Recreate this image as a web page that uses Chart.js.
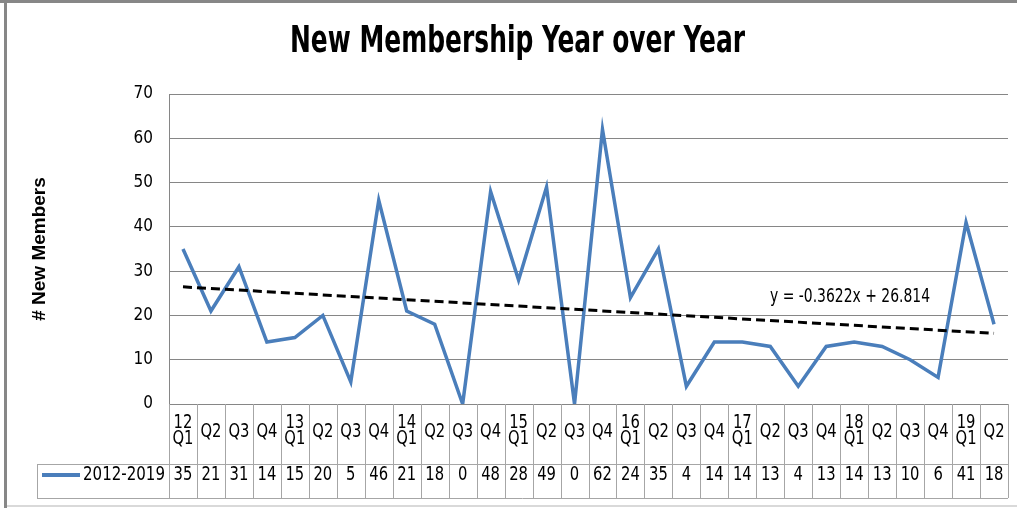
<!DOCTYPE html>
<html>
<head>
<meta charset="utf-8">
<script src="https://cdn.jsdelivr.net/npm/chart.js@4/dist/chart.umd.min.js"></script>
<style>
html,body{margin:0;padding:0;background:#fff;}
#wrap{width:1017px;height:508px;position:relative;}
</style>
</head>
<body>
<div id="wrap"><canvas id="c" width="1017" height="508"></canvas></div>
<script>
const categories = [
  ['12','Q1'],['Q2'],['Q3'],['Q4'],
  ['13','Q1'],['Q2'],['Q3'],['Q4'],
  ['14','Q1'],['Q2'],['Q3'],['Q4'],
  ['15','Q1'],['Q2'],['Q3'],['Q4'],
  ['16','Q1'],['Q2'],['Q3'],['Q4'],
  ['17','Q1'],['Q2'],['Q3'],['Q4'],
  ['18','Q1'],['Q2'],['Q3'],['Q4'],
  ['19','Q1'],['Q2']
];
const seriesName = '2012-2019';
const members = [35,21,31,14,15,20,5,46,21,18,0,48,28,49,0,62,24,35,4,14,14,13,4,13,14,13,10,6,41,18];
// linear trend line as shown: endpoints (y = -0.3622x + 26.814)
const trendLabel = 'y = -0.3622x + 26.814';
const trendStart = 26.45;
const trendEnd = 15.95;
const trend = members.map((v, i) => i === 0 ? trendStart : (i === members.length - 1 ? trendEnd : null));
const yTicks = [0,10,20,30,40,50,60,70];
const titleText = 'New Membership Year over Year';
const yTitle = '# New Members';

const BLUE = '#4A7EBB';
const GRID = '#868686';
const TABLE = '#A6A6A6';
const COND = "'DejaVu Sans Condensed', 'Liberation Sans Narrow', sans-serif";

// draw text horizontally squeezed (the reference font is narrow and tall)
function drawSqueezed(ctx, text, x, y, sx, align) {
  ctx.save();
  const w = ctx.measureText(text).width * sx;
  let left = x;
  if (align === 'center') left = x - w / 2;
  else if (align === 'right') left = x - w;
  ctx.translate(left, y);
  ctx.scale(sx, 1);
  ctx.textAlign = 'left';
  ctx.fillText(text, 0, 0);
  ctx.restore();
}
function drawFitWidth(ctx, text, x, y, width, align) {
  const sx = width / ctx.measureText(text).width;
  drawSqueezed(ctx, text, x, y, sx, align);
}

const framePlugin = {
  id: 'frame',
  beforeDraw(chart) {
    const ctx = chart.ctx;
    ctx.save();
    ctx.fillStyle = '#fff';
    ctx.fillRect(0, 0, chart.width, chart.height);
    ctx.fillStyle = '#878787';
    ctx.fillRect(0, 0, chart.width, 3);
    ctx.fillRect(4, 0, 3, chart.height);
    ctx.fillStyle = '#D9D9D9';
    ctx.fillRect(7, 505, chart.width - 7, 2);
    // title
    ctx.fillStyle = '#000';
    ctx.font = 'bold 38px ' + COND;
    ctx.textBaseline = 'alphabetic';
    drawFitWidth(ctx, titleText, 517.5, 52, 455, 'center');
    ctx.restore();
  }
};

const tablePlugin = {
  id: 'dataTable',
  afterDraw(chart) {
    const ctx = chart.ctx;
    const area = chart.chartArea;
    const xs = chart.scales.x;
    const n = categories.length;
    const w = (area.right - area.left) / n;
    const rowTop = area.bottom;
    const rowMid = area.bottom + 60;
    const rowBot = rowMid + 34;
    const legendLeft = 37;
    ctx.save();
    ctx.strokeStyle = TABLE;
    ctx.lineWidth = 1;
    ctx.beginPath();
    for (let i = 0; i <= n; i++) {
      const x = Math.round(area.left + i * w) + 0.5;
      ctx.moveTo(x, rowTop);
      ctx.lineTo(x, rowBot);
    }
    ctx.moveTo(legendLeft + 0.5, rowMid);
    ctx.lineTo(legendLeft + 0.5, rowBot);
    ctx.moveTo(legendLeft, rowMid + 0.5);
    ctx.lineTo(area.right, rowMid + 0.5);
    ctx.moveTo(legendLeft, rowBot + 0.5);
    ctx.lineTo(area.right, rowBot + 0.5);
    ctx.stroke();

    ctx.fillStyle = '#000';
    ctx.font = '20px ' + COND;
    ctx.textBaseline = 'alphabetic';
    const sx = 0.82;
    categories.forEach((lab, i) => {
      const cx = xs.getPixelForValue(i);
      if (lab.length === 2) {
        drawSqueezed(ctx, lab[0], cx, rowTop + 24, sx, 'center');
        drawSqueezed(ctx, lab[1], cx, rowTop + 40, sx, 'center');
      } else {
        drawSqueezed(ctx, lab[0], cx, rowTop + 33, sx, 'center');
      }
      drawSqueezed(ctx, String(members[i]), cx, rowMid + 16, sx, 'center');
    });
    // legend key
    ctx.strokeStyle = BLUE;
    ctx.lineWidth = 4;
    ctx.beginPath();
    ctx.moveTo(42, rowMid + 11);
    ctx.lineTo(80, rowMid + 11);
    ctx.stroke();
    drawFitWidth(ctx, seriesName, 83, rowMid + 16, 82, 'left');

    // trend line equation
    ctx.font = '19px ' + COND;
    drawFitWidth(ctx, trendLabel, 770, 302, 160, 'left');
    ctx.restore();
  }
};

new Chart(document.getElementById('c'), {
  type: 'line',
  data: {
    labels: categories,
    datasets: [
      {
        label: seriesName,
        data: members,
        borderColor: BLUE,
        backgroundColor: BLUE,
        borderWidth: 3.5,
        pointRadius: 0,
        tension: 0,
        order: 2
      },
      {
        label: 'Linear (' + seriesName + ')',
        data: trend,
        spanGaps: true,
        borderColor: '#000',
        borderWidth: 3,
        borderDash: [9, 5],
        pointRadius: 0,
        tension: 0,
        order: 1
      }
    ]
  },
  options: {
    responsive: false,
    animation: false,
    devicePixelRatio: 1,
    layout: { padding: { left: 0, right: 9, top: 94, bottom: 104 } },
    plugins: {
      legend: { display: false },
      tooltip: { enabled: false },
      title: { display: false }
    },
    scales: {
      x: {
        type: 'category',
        display: false,
        offset: true
      },
      y: {
        min: 0,
        max: 70,
        afterBuildTicks(scale) { scale.ticks = yTicks.map(v => ({ value: v })); },
        afterFit(scale) { scale.width = 169; },
        ticks: {
          color: '#000',
          padding: 16,
          font: { family: COND, size: 17 }
        },
        grid: { color: GRID, lineWidth: 1, drawTicks: false },
        border: { display: true, color: GRID, width: 1 },
        title: {
          display: true,
          text: yTitle,
          color: '#000',
          font: { family: "'Liberation Sans', Arial, sans-serif", size: 19, weight: 'bold', lineHeight: 1.2 },
          padding: { top: 28, bottom: 0 }
        }
      }
    }
  },
  plugins: [framePlugin, tablePlugin]
});
</script>
</body>
</html>
